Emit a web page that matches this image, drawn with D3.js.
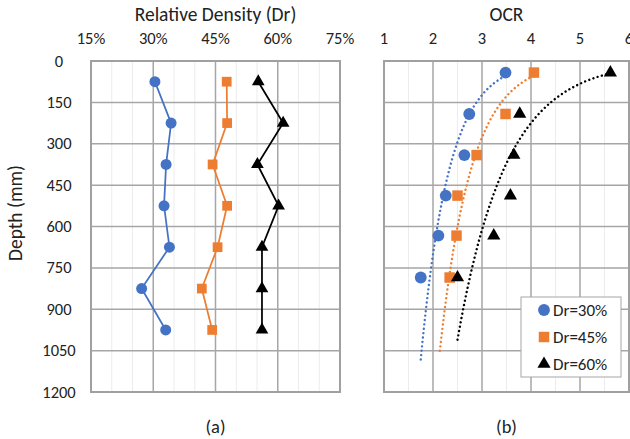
<!DOCTYPE html>
<html><head><meta charset="utf-8">
<script src="https://cdn.jsdelivr.net/npm/d3@7"></script>
<style>
html,body{margin:0;padding:0;background:#fff;}
text{font-family:Carlito,"Open Sans",sans-serif;fill:#222;}
</style></head>
<body><svg id="c" width="630" height="439"></svg>
<script>
// ---- data ----
const seriesNames = ["Dr=30%", "Dr=45%", "Dr=60%"];
const seriesColors = ["#4472C4", "#ED7D31", "#000000"];
const seriesShapes = ["circle", "square", "triangle"];

// (a) relative density profile
const drDepths = [75, 225, 375, 525, 675, 825, 975];
const dr30 = [30.4, 34.3, 33.1, 32.6, 33.9, 27.2, 33.0];
const dr45 = [47.7, 47.8, 44.3, 47.8, 45.5, 41.7, 44.2];
const dr60 = [55.3, 61.3, 55.1, 60.2, 56.2, 56.2, 56.2];

// (b) OCR profile
const ocrDepths = [42, 192, 341, 488, 633, 785];
const ocr30 = [3.48, 2.74, 2.64, 2.26, 2.11, 1.75];
const ocr45 = [4.06, 3.48, 2.89, 2.50, 2.48, 2.34];
const ocr60 = [5.62, 3.77, 3.65, 3.58, 3.24, 2.50];
const trendBackward = [0, 0.2, 0]; // exponential trendline backward forecast (OCR units)

const depthTicks = [0, 150, 300, 450, 600, 750, 900, 1050, 1200];
const drTicks = [15, 30, 45, 60, 75];
const ocrTicks = [1, 2, 3, 4, 5, 6];

const titleA = "Relative Density (Dr)";
const titleB = "OCR";
const yTitle = "Depth (mm)";
const captions = ["(a)", "(b)"];

// ---- drawing ----
const svg = d3.select("#c");
const pTop = 61, pBottom = 392;
const y = d3.scaleLinear().domain([0, 1200]).range([pTop, pBottom]);
const xa = d3.scaleLinear().domain([15, 75]).range([91, 340]);
const xb = d3.scaleLinear().domain([1, 6]).range([384, 629]);

function symbolPath(shape, size) {
  const t = shape === "circle" ? d3.symbolCircle : shape === "square" ? d3.symbolSquare : d3.symbolTriangle;
  return d3.symbol().type(t).size(size)();
}

function panel(x, minorStep, ticks, fmt, title, caption) {
  const g = svg.append("g");
  const [x0, x1] = x.range();
  const dom = x.domain();
  const minor = d3.range(dom[0], dom[1] + 1e-9, minorStep).filter(v => !ticks.some(t => Math.abs(t - v) < 1e-9));
  g.selectAll(".mn").data(minor).join("line")
    .attr("x1", d => x(d)).attr("x2", d => x(d)).attr("y1", pTop).attr("y2", pBottom)
    .attr("stroke", "#ececec").attr("stroke-width", 1);
  g.selectAll(".mv").data(ticks).join("line")
    .attr("x1", d => x(d)).attr("x2", d => x(d)).attr("y1", pTop).attr("y2", pBottom)
    .attr("stroke", "#a6a6a6").attr("stroke-width", 1.5);
  g.selectAll(".mh").data(depthTicks).join("line")
    .attr("x1", x0).attr("x2", x1).attr("y1", d => y(d)).attr("y2", d => y(d))
    .attr("stroke", "#a6a6a6").attr("stroke-width", 1.5);
  g.append("rect").attr("x", x0).attr("y", pTop).attr("width", x1 - x0).attr("height", pBottom - pTop)
    .attr("fill", "none").attr("stroke", "#a0a0a0").attr("stroke-width", 2);
  g.selectAll(".tl").data(ticks).join("text")
    .attr("x", d => x(d)).attr("y", 44).attr("text-anchor", "middle")
    .attr("font-size", 16.5).text(fmt);
  g.append("text").attr("x", (x0 + x1) / 2).attr("y", 21).attr("text-anchor", "middle")
    .attr("font-size", 19.5).text(title);
  g.append("text").attr("x", (x0 + x1) / 2).attr("y", 433).attr("text-anchor", "middle")
    .attr("font-size", 18.5).text(caption);
  return g;
}

const ga = panel(xa, 5, drTicks, d => d + "%", titleA, captions[0]);
const gb = panel(xb, 0.5, ocrTicks, d => d, titleB, captions[1]);

svg.selectAll(".yl").data(depthTicks).join("text")
  .attr("x", 59).attr("y", d => y(d) + 5.5).attr("text-anchor", "middle")
  .attr("font-size", 16.5).text(d => d);
svg.append("text").attr("transform", "translate(22,213) rotate(-90)")
  .attr("text-anchor", "middle").attr("font-size", 19.5).text(yTitle);

const drSeries = [dr30, dr45, dr60];
drSeries.forEach((vals, i) => {
  const pts = vals.map((v, k) => [xa(v), y(drDepths[k])]);
  ga.append("path").attr("d", d3.line()(pts)).attr("fill", "none")
    .attr("stroke", seriesColors[i]).attr("stroke-width", 1.75);
  ga.selectAll(".p" + i).data(pts).join("path")
    .attr("d", symbolPath(seriesShapes[i], i === 2 ? 70 : 95))
    .attr("transform", d => `translate(${d[0]},${d[1]})`)
    .attr("fill", seriesColors[i]);
});

const ocrSeries = [ocr30, ocr45, ocr60];
ocrSeries.forEach((vals, i) => {
  const n = vals.length;
  const lx = vals, ly = ocrDepths.map(Math.log);
  const mx = d3.mean(lx), my = d3.mean(ly);
  let sxy = 0, sxx = 0;
  for (let k = 0; k < n; k++) { sxy += (lx[k] - mx) * (ly[k] - my); sxx += (lx[k] - mx) ** 2; }
  const b = sxy / sxx, la = my - b * mx;
  const [xmin, xmax] = d3.extent(vals);
  const xs = d3.range(0, 101).map(t => (xmin - trendBackward[i]) + t / 100 * (xmax - xmin + trendBackward[i]));
  const pts = xs.map(v => [xb(v), y(Math.exp(la + b * v))]);
  gb.append("path").attr("d", d3.line()(pts)).attr("fill", "none")
    .attr("stroke", seriesColors[i]).attr("stroke-width", 2.4)
    .attr("stroke-linecap", "round").attr("stroke-dasharray", "0.01 4.4");
  gb.selectAll(".q" + i).data(vals).join("path")
    .attr("d", symbolPath(seriesShapes[i], i === 2 ? 75 : 110))
    .attr("transform", (d, k) => `translate(${xb(d)},${y(ocrDepths[k])})`)
    .attr("fill", seriesColors[i]);
});

const lg = svg.append("g");
lg.append("rect").attr("x", 521).attr("y", 297).attr("width", 100).attr("height", 80)
  .attr("fill", "#fff").attr("stroke", "#a6a6a6").attr("stroke-width", 1);
seriesNames.forEach((nm, i) => {
  const yy = 310 + i * 27;
  lg.append("path").attr("d", symbolPath(seriesShapes[i], i === 2 ? 75 : 110))
    .attr("transform", `translate(544,${yy})`).attr("fill", seriesColors[i]);
  lg.append("text").attr("x", 553).attr("y", yy + 6).attr("font-size", 17).text(nm);
});
</script></body></html>
